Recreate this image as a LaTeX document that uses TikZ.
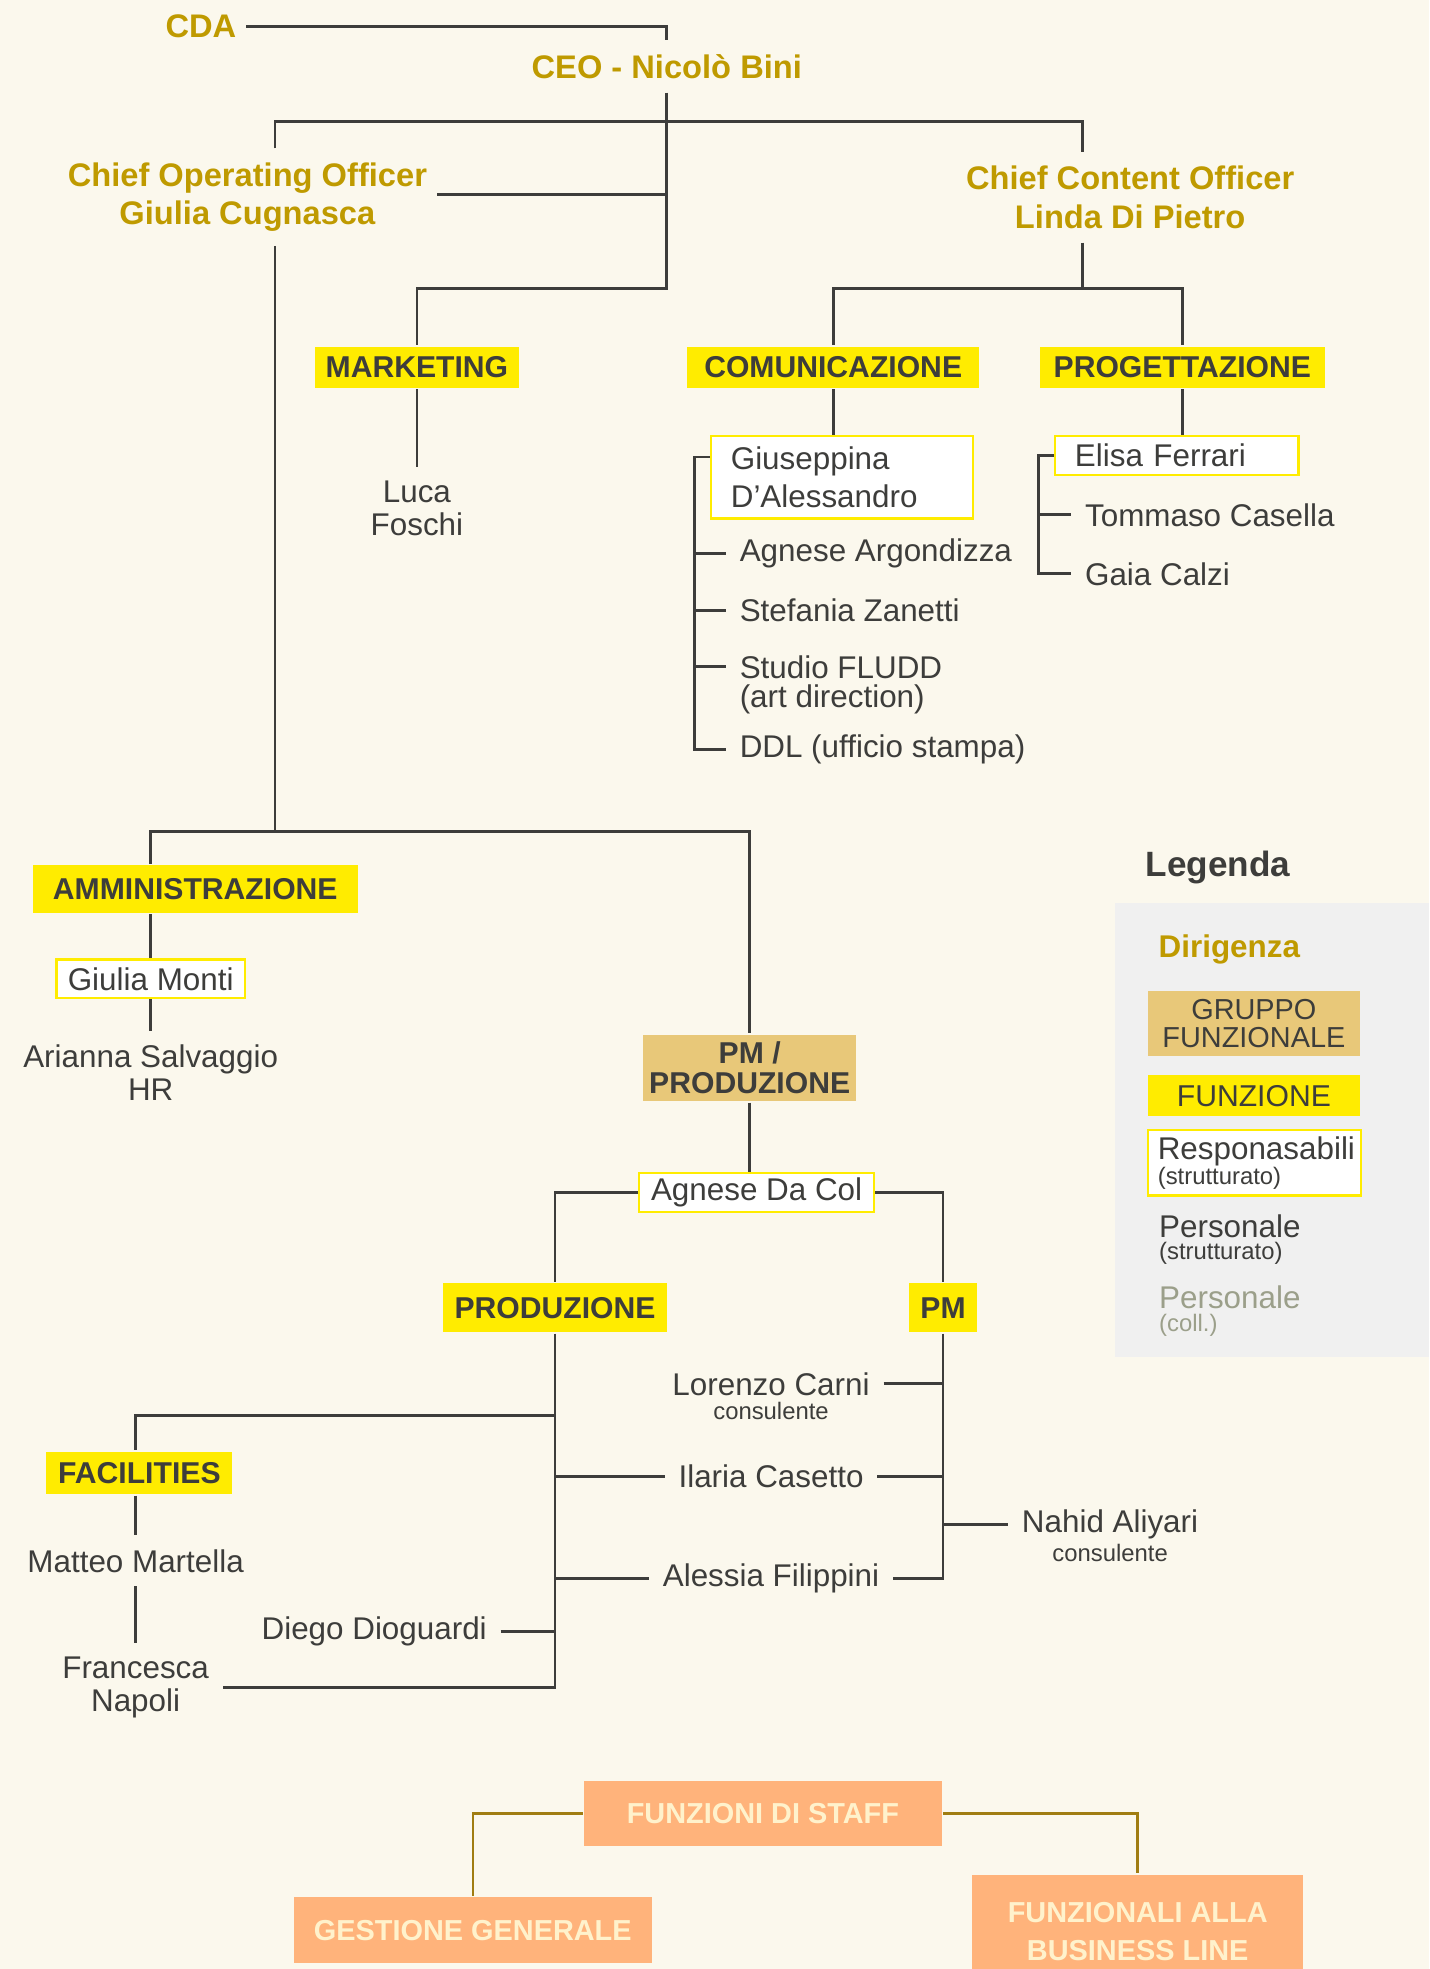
\documentclass[tikz,border=0pt]{standalone}
\usepackage{fontspec}
\setmainfont{Liberation Sans}
\definecolor{bg}{HTML}{FBF8ED}
\definecolor{gold}{HTML}{BF9A00}
\definecolor{ink}{HTML}{3D3D3B}
\definecolor{funzy}{HTML}{FFEC00}
\definecolor{gruppo}{HTML}{E8C879}
\definecolor{leg}{HTML}{F0F0F0}
\definecolor{salmon}{HTML}{FFB37B}
\definecolor{cream}{HTML}{FFF2CC}
\definecolor{olive}{HTML}{A07D12}
\definecolor{coll}{HTML}{9B9F8A}
\begin{document}
\begin{tikzpicture}[x=0.5pt,y=-0.5pt,color=ink,line width=1.1pt,
  lead/.style={text=gold,font=\bfseries\fontsize{13}{15.5}\selectfont,align=center,inner xsep=3.5pt,inner ysep=5pt},
  funz/.style={fill=funzy,font=\bfseries\fontsize{12}{12}\selectfont,minimum height=16.5pt,inner sep=0pt},
  grp/.style={fill=gruppo,font=\bfseries\fontsize{12}{12}\selectfont,align=center,inner sep=0pt},
  resp/.style={fill=white,draw=funzy,line width=0.9pt,font=\fontsize{12.5}{15}\selectfont,inner sep=0pt},
  pers/.style={font=\fontsize{12.5}{13}\selectfont,align=center,inner sep=5pt},
  sub/.style={font=\fontsize{9.5}{10}\selectfont,inner sep=0pt},
  staff/.style={fill=salmon,text=cream,font=\bfseries\fontsize{11.5}{15}\selectfont,align=center,minimum width=142.5pt,minimum height=26pt},
  staffline/.style={draw=olive,line width=1pt}]
\fill[bg] (0,0) rectangle (1138,1568);
\useasboundingbox (0,0) rectangle (1138,1568);

% vertice
\node[lead] (cda) at (160,21) {CDA};
\node[lead] (ceo) at (531,53) {CEO - Nicolò Bini};
\node[lead] (coo) at (197,157) {Chief Operating Officer\\Giulia Cugnasca};
\node[lead] (cco) at (900,157) {Chief Content Officer\\Linda Di Pietro};
\node[funz,minimum width=81pt] (mkt) at (332,292.5) {MARKETING};
\coordinate (topJ) at (531,97);
\coordinate (mkJ) at (0,230);
\coordinate (cntJ) at (862,230);
\coordinate (admJ) at (219,662);
\draw (cda.east) -| (ceo.north);
\draw (ceo.south) -- (ceo.south |- mkJ) -| (mkt.north);
\draw ([xshift=11pt]coo.north) |- (topJ) -| ([xshift=-19pt]cco.north);
\draw ([yshift=1pt]coo.east) -- ([yshift=1pt]coo.east -| topJ);
\draw ([xshift=11pt]coo.south) -- (admJ);
\draw ([xshift=-19pt]cco.south) -- (cntJ);

% marketing
\node[pers] (lf) at (332,405) {Luca\\Foschi};
\draw (mkt.south) -- (lf.north);

% comunicazione
\node[funz,minimum width=116.5pt] (com) at (663.5,292.5) {COMUNICAZIONE};
\node[funz,minimum width=113.5pt] (prog) at (941.5,292.5) {PROGETTAZIONE};
\draw (com.north) |- (cntJ) -| (prog.north);
\node[resp,minimum width=104.5pt,minimum height=33pt,text width=88.5pt,align=left] (gda) at (670.5,380) {Giuseppina\\D’Alessandro};
\draw (com.south) -- (com.south |- gda.north);
\node[pers,anchor=west] (aa) at (578,441) {Agnese Argondizza};
\node[pers,anchor=west] (sz) at (578,486) {Stefania Zanetti};
\node[pers,anchor=west] (sf) at (578,531) {Studio FLUDD};
\node[pers,anchor=west] (sfsub) at (578,557) {(art direction)};
\node[pers,anchor=west] (ddl) at (578,597) {DDL (ufficio stampa)};
\coordinate (comSp) at (553,0);
\draw ([yshift=8pt]gda.west) -| (comSp |- ddl.west) -- (ddl.west);
\foreach \n in {aa,sz,sf}
  \draw (comSp |- \n.west) -- (\n.west);

% progettazione
\node[resp,minimum width=97pt,minimum height=15.5pt,text width=81pt,align=left] (ef) at (937,362.5) {Elisa Ferrari};
\draw (prog.south) -- (prog.south |- ef.north);
\node[pers,anchor=west] (tc) at (853,410) {Tommaso Casella};
\node[pers,anchor=west] (gc) at (853,457) {Gaia Calzi};
\coordinate (progSp) at (827,0);
\draw (ef.west) -| (progSp |- gc.west) -- (gc.west);
\draw (progSp |- tc.west) -- (tc.west);

% amministrazione
\node[funz,minimum width=129.5pt,minimum height=19pt] (amm) at (155.5,708) {AMMINISTRAZIONE};
\node[resp,minimum width=75pt,minimum height=15.5pt] (gm) at (120,779.5) {Giulia Monti};
\node[pers] (as) at (120,854) {Arianna Salvaggio\\HR};
\node[grp,minimum width=85pt,minimum height=26.5pt] (pmprod) at (597,850.5) {PM /\\PRODUZIONE};
\draw (amm.north -| gm.north) |- (admJ) -| (pmprod.north);
\draw (amm.south -| gm.north) -- (gm.north);
\draw (gm.south) -- (as.north);

% pm / produzione
\node[resp,minimum width=93.5pt,minimum height=15.5pt] (adc) at (602.5,949.5) {Agnese Da Col};
\draw (pmprod.south) -- (pmprod.south |- adc.north);
\node[funz,minimum width=89.5pt,minimum height=19.5pt] (prod) at (442,1041.5) {PRODUZIONE};
\node[funz,minimum width=27pt,minimum height=19.5pt] (pm) at (751,1041.5) {PM};
\draw (adc.west) -| (prod.north);
\draw (adc.east) -| (pm.north);

\node[pers] (lc) at (614,1102) {Lorenzo Carni};
\node[sub] (lcsub) at (614,1124) {consulente};
\node[pers] (ic) at (614,1176) {Ilaria Casetto};
\node[pers] (al) at (614,1257) {Alessia Filippini};
\node[pers] (na) at (884,1214) {Nahid Aliyari};
\node[sub] (nasub) at (884,1237) {consulente};
\node[pers] (dd) at (298,1299) {Diego Dioguardi};
\node[funz,minimum width=74pt,minimum height=17pt] (fac) at (111,1173) {FACILITIES};
\node[pers] (mm) at (108,1243) {Matteo Martella};
\node[pers] (fn) at (108,1344) {Francesca\\Napoli};
\coordinate (facJ) at (0,1127);
\draw (prod.south) |- (fn.east);
\draw (prod.south |- facJ) -| (fac.north -| mm.north);
\draw (prod.south |- ic.west) -- (ic.west);
\draw (prod.south |- al.west) -- (al.west);
\draw (dd.east) -- (dd.east -| prod.south);
\draw (pm.south) |- (al.east);
\draw (lc.east) -- (lc.east -| pm.south);
\draw (ic.east) -- (ic.east -| pm.south);
\draw (pm.south |- na.west) -- (na.west);
\draw (fac.south -| mm.north) -- (mm.north);
\draw (mm.south) -- (fn.north);

% legenda
\node[font=\bfseries\fontsize{14}{14}\selectfont] (legenda) at (970,691) {Legenda};
\fill[leg] (888,719) rectangle (1138,1081);
\node[lead,font=\bfseries\fontsize{12.5}{13}\selectfont] (dir) at (979,756) {Dirigenza};
\node[grp,font=\fontsize{11.5}{11}\selectfont,minimum width=84.5pt,minimum height=26pt] (legGrp) at (998.5,815) {GRUPPO\\FUNZIONALE};
\node[funz,font=\fontsize{12}{12}\selectfont,minimum width=84.5pt] (legFunz) at (998.5,872.5) {FUNZIONE};
\node[resp,minimum width=85pt,minimum height=26pt,text width=77pt,align=left] (legResp) at (999,926) {Responasabili\\[-5pt]\fontsize{9.5}{10}\selectfont(strutturato)};
\node[pers,anchor=west,align=left,inner sep=2pt] (legPers) at (918,987) {Personale\\[-4pt]\fontsize{9.5}{10}\selectfont(strutturato)};
\node[pers,anchor=west,align=left,inner sep=2pt,text=coll] (legColl) at (918,1044) {Personale\\[-4pt]\fontsize{9.5}{10}\selectfont(coll.)};

% staff
\node[staff] (staff) at (607.5,1444) {FUNZIONI DI STAFF};
\node[staff] (gg) at (376.5,1537) {GESTIONE GENERALE};
\node[staff,minimum width=132pt,minimum height=45pt] (fbl) at (906,1538) {FUNZIONALI ALLA\\BUSINESS LINE};
\draw[staffline] (staff.west) -| (gg.north);
\draw[staffline] (staff.east) -| (fbl.north);
\end{tikzpicture}
\end{document}
